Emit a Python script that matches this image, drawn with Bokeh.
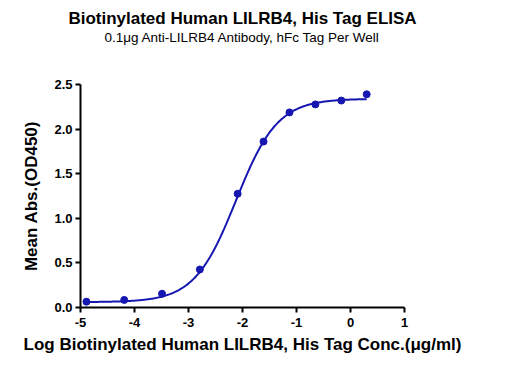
import numpy as np
from bokeh.plotting import figure
from bokeh.models import Range1d, FixedTicker, NumeralTickFormatter, Title
from bokeh.embed import file_html
from bokeh.resources import INLINE

# Data
log_conc = [-4.89, -4.19, -3.49, -2.79, -2.09, -1.61, -1.13, -0.65, -0.17, 0.30]
mean_abs = [0.065, 0.085, 0.155, 0.426, 1.275, 1.86, 2.187, 2.277, 2.32, 2.39]

# 4PL fit parameters (estimated from the plotted curve)
fit_bottom = 0.06
fit_top = 2.34
fit_log_ec50 = -2.12
fit_hill = 1.13

x_ticks = [-5, -4, -3, -2, -1, 0, 1]
y_ticks = [0.0, 0.5, 1.0, 1.5, 2.0, 2.5]

title_text = "Biotinylated Human LILRB4, His Tag ELISA"
subtitle_text = "0.1\u03bcg Anti-LILRB4 Antibody, hFc Tag Per Well"
x_label_text = "Log Biotinylated Human LILRB4, His Tag Conc.(\u03bcg/ml)"
y_label_text = "Mean Abs.(OD450)"

FONT = "Liberation Sans"
BLUE = "#1616b0"

p = figure(width=506, height=368, output_backend="svg", toolbar_location=None,
           x_range=Range1d(-5, 1), y_range=Range1d(0, 2.5),
           min_border_left=80, min_border_right=102,
           min_border_top=84, min_border_bottom=61)
p.outline_line_color = None
p.xgrid.visible = False
p.ygrid.visible = False
p.background_fill_color = "white"
p.border_fill_color = "white"

for ax in (p.xaxis, p.yaxis):
    ax.axis_line_width = 2
    ax.axis_line_color = "black"
    ax.major_tick_line_width = 2
    ax.major_tick_line_color = "black"
    ax.major_tick_out = 5
    ax.major_tick_in = 0
    ax.minor_tick_line_color = None
    ax.major_label_text_font = FONT
    ax.major_label_text_font_style = "bold"
    ax.major_label_text_font_size = "13px"
    ax.major_label_text_color = "black"
    ax.axis_label_text_font = FONT
    ax.axis_label_text_font_style = "bold"
    ax.axis_label_text_font_size = "17px"
    ax.axis_label_text_color = "black"

p.xaxis.ticker = FixedTicker(ticks=x_ticks)
p.yaxis.ticker = FixedTicker(ticks=y_ticks)
p.xaxis.formatter = NumeralTickFormatter(format="0")
p.yaxis.formatter = NumeralTickFormatter(format="0.0")
p.xaxis.major_label_standoff = 5
p.yaxis.major_label_standoff = 3

p.yaxis.axis_label = y_label_text
p.yaxis.axis_label_standoff = 10
p.xaxis.axis_label = x_label_text
p.xaxis.axis_label_standoff = 5

# spacer between plot and titles, then subtitle, then main title
p.add_layout(Title(text=" ", align="center", text_font=FONT,
                   text_font_size="12px", standoff=24), "above")
p.add_layout(Title(text=subtitle_text, align="center", text_font=FONT,
                   text_font_size="13.5px", text_font_style="normal",
                   text_color="black", standoff=0), "above")
p.add_layout(Title(text=title_text, align="center", text_font=FONT,
                   text_font_size="17px", text_font_style="bold",
                   text_color="black", standoff=0), "above")

# fitted curve
xs = np.linspace(min(log_conc), max(log_conc), 300)
ys = fit_bottom + (fit_top - fit_bottom) / (1 + 10 ** ((fit_log_ec50 - xs) * fit_hill))
p.line(xs, ys, line_color=BLUE, line_width=2)
p.scatter(log_conc, mean_abs, size=7, fill_color=BLUE, line_color=BLUE)

open("out.html", "w").write(file_html(p, INLINE))
